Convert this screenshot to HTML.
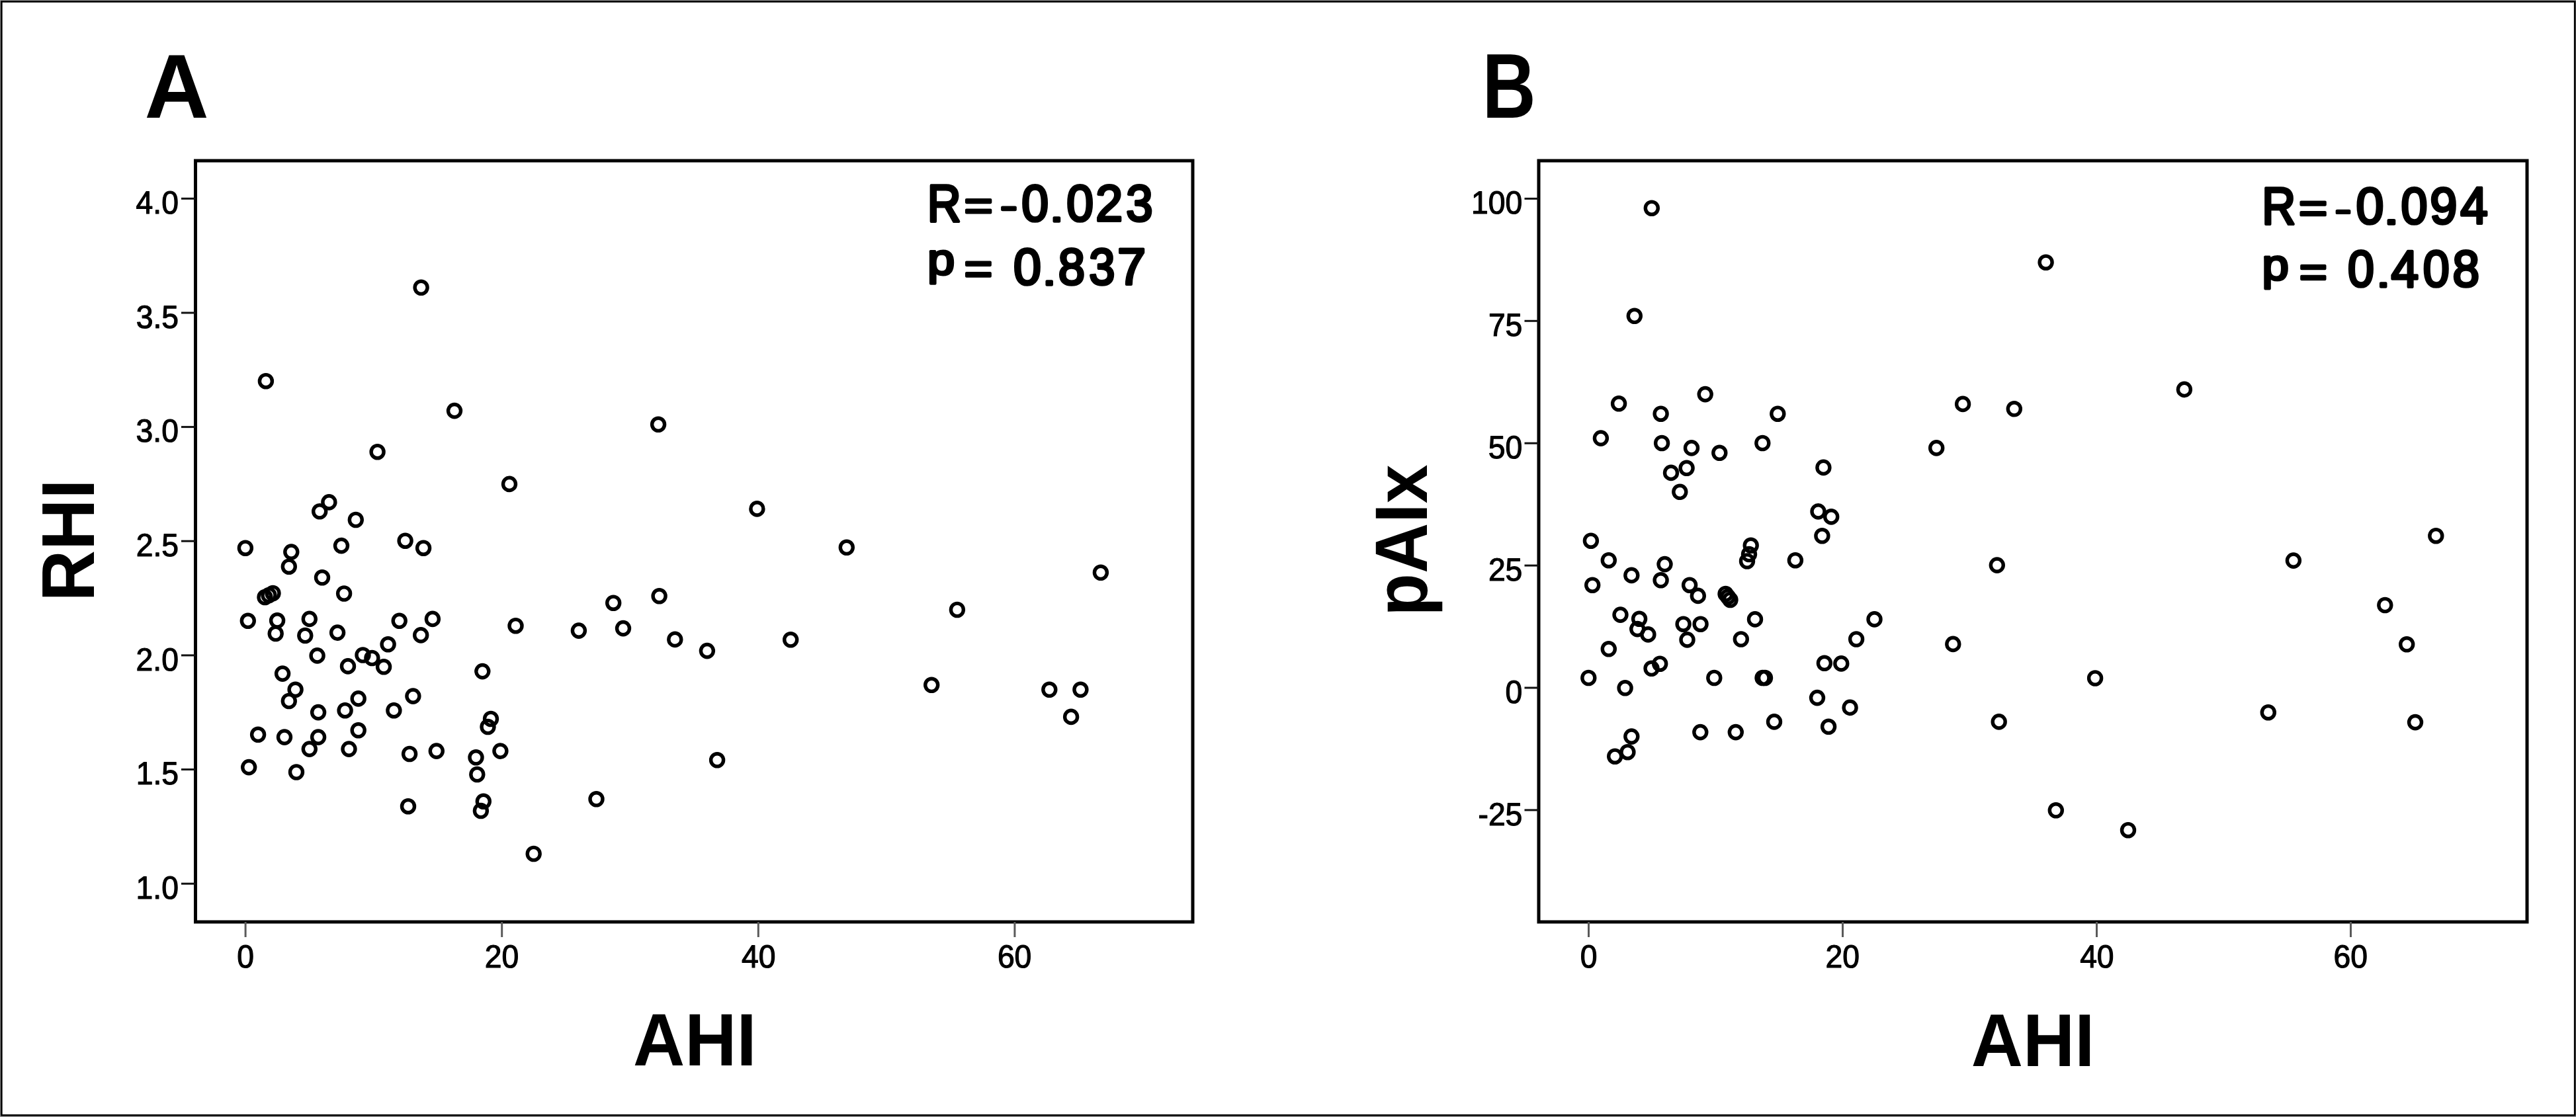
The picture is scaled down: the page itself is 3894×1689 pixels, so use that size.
<!DOCTYPE html>
<html><head><meta charset="utf-8"><title>RHI / pAIx vs AHI scatter plots</title>
<style>html,body{margin:0;padding:0;background:#fff;overflow:hidden;}svg{display:block;}#wrap{filter:grayscale(100%);width:3894px;height:1689px;}text{font-family:"Liberation Sans",sans-serif;fill:#000;font-kerning:none;text-rendering:geometricPrecision;}.tl{stroke:#000;stroke-width:1.20px;stroke-linejoin:round;}</style></head><body><div id="wrap">
<svg width="3894" height="1689" viewBox="0 0 3894 1689">
<rect x="0" y="0" width="3894" height="1689" fill="#fff"/>
<rect x="0.5" y="0.5" width="3893" height="1688" fill="none" stroke="#9a9a9a" stroke-width="1"/>
<rect x="2.3" y="2.4" width="3889.9" height="1684.0" fill="none" stroke="#000" stroke-width="2.7"/>
<text  font-size="100" font-weight="bold" transform="matrix(1.3460 0 0 1.3750 218.55 177.80)">A</text>
<text  font-size="100" font-weight="bold" transform="matrix(1.1199 0 0 1.3925 2240.71 178.40)">B</text>
<rect x="295.5" y="243.0" width="1507.5" height="1151.0" fill="none" stroke="#000" stroke-width="5.0"/>
<line x1="274.0" y1="300.3" x2="295.5" y2="300.3" stroke="#111" stroke-width="3"/>
<text class="tl" font-size="48.7" transform="matrix(0.950 0 0 1 205.59 322.90)">4.0</text>
<line x1="274.0" y1="473.0" x2="295.5" y2="473.0" stroke="#111" stroke-width="3"/>
<text class="tl" font-size="48.7" transform="matrix(0.950 0 0 1 205.73 495.55)">3.5</text>
<line x1="274.0" y1="645.6" x2="295.5" y2="645.6" stroke="#111" stroke-width="3"/>
<text class="tl" font-size="48.7" transform="matrix(0.950 0 0 1 205.59 668.20)">3.0</text>
<line x1="274.0" y1="818.2" x2="295.5" y2="818.2" stroke="#111" stroke-width="3"/>
<text class="tl" font-size="48.7" transform="matrix(0.950 0 0 1 205.73 840.85)">2.5</text>
<line x1="274.0" y1="990.9" x2="295.5" y2="990.9" stroke="#111" stroke-width="3"/>
<text class="tl" font-size="48.7" transform="matrix(0.950 0 0 1 205.59 1013.50)">2.0</text>
<line x1="274.0" y1="1163.5" x2="295.5" y2="1163.5" stroke="#111" stroke-width="3"/>
<text class="tl" font-size="48.7" transform="matrix(0.950 0 0 1 205.73 1186.15)">1.5</text>
<line x1="274.0" y1="1336.2" x2="295.5" y2="1336.2" stroke="#111" stroke-width="3"/>
<text class="tl" font-size="48.7" transform="matrix(0.950 0 0 1 205.59 1358.80)">1.0</text>
<line x1="371.1" y1="1394.0" x2="371.1" y2="1417.0" stroke="#5a5a5a" stroke-width="3.0"/>
<text class="tl" font-size="48.7" transform="matrix(0.950 0 0 1 358.23 1462.80)">0</text>
<line x1="758.7" y1="1394.0" x2="758.7" y2="1417.0" stroke="#5a5a5a" stroke-width="3.0"/>
<text class="tl" font-size="48.7" transform="matrix(0.950 0 0 1 732.71 1462.80)">20</text>
<line x1="1146.3" y1="1394.0" x2="1146.3" y2="1417.0" stroke="#5a5a5a" stroke-width="3.0"/>
<text class="tl" font-size="48.7" transform="matrix(0.950 0 0 1 1120.94 1462.80)">40</text>
<line x1="1533.9" y1="1394.0" x2="1533.9" y2="1417.0" stroke="#5a5a5a" stroke-width="3.0"/>
<text class="tl" font-size="48.7" transform="matrix(0.950 0 0 1 1507.90 1462.80)">60</text>
<g fill="none" stroke="#000" stroke-width="5.4">
<ellipse cx="636.6" cy="434.8" rx="9.50" ry="9.60"/>
<ellipse cx="401.9" cy="576.2" rx="9.50" ry="9.60"/>
<ellipse cx="687.0" cy="621.1" rx="9.50" ry="9.60"/>
<ellipse cx="995.1" cy="641.8" rx="9.50" ry="9.60"/>
<ellipse cx="570.6" cy="683.2" rx="9.50" ry="9.60"/>
<ellipse cx="770.0" cy="731.9" rx="9.50" ry="9.60"/>
<ellipse cx="497.4" cy="759.4" rx="9.50" ry="9.60"/>
<ellipse cx="483.2" cy="773.3" rx="9.50" ry="9.60"/>
<ellipse cx="537.8" cy="786.0" rx="9.50" ry="9.60"/>
<ellipse cx="370.9" cy="828.7" rx="9.50" ry="9.60"/>
<ellipse cx="440.3" cy="834.6" rx="9.50" ry="9.60"/>
<ellipse cx="516.0" cy="825.1" rx="9.50" ry="9.60"/>
<ellipse cx="612.6" cy="817.7" rx="9.50" ry="9.60"/>
<ellipse cx="640.1" cy="828.7" rx="9.50" ry="9.60"/>
<ellipse cx="436.8" cy="856.7" rx="9.50" ry="9.60"/>
<ellipse cx="487.0" cy="873.3" rx="9.50" ry="9.60"/>
<ellipse cx="400.5" cy="903.0" rx="9.50" ry="9.60"/>
<ellipse cx="406.5" cy="900.0" rx="9.50" ry="9.60"/>
<ellipse cx="412.5" cy="897.0" rx="9.50" ry="9.60"/>
<ellipse cx="520.1" cy="897.5" rx="9.50" ry="9.60"/>
<ellipse cx="927.2" cy="911.7" rx="9.50" ry="9.60"/>
<ellipse cx="996.6" cy="901.3" rx="9.50" ry="9.60"/>
<ellipse cx="374.8" cy="938.8" rx="9.50" ry="9.60"/>
<ellipse cx="419.1" cy="938.3" rx="9.50" ry="9.60"/>
<ellipse cx="416.7" cy="958.0" rx="9.50" ry="9.60"/>
<ellipse cx="467.8" cy="935.9" rx="9.50" ry="9.60"/>
<ellipse cx="461.3" cy="961.0" rx="9.50" ry="9.60"/>
<ellipse cx="510.1" cy="956.6" rx="9.50" ry="9.60"/>
<ellipse cx="603.7" cy="938.8" rx="9.50" ry="9.60"/>
<ellipse cx="653.9" cy="935.9" rx="9.50" ry="9.60"/>
<ellipse cx="636.2" cy="960.4" rx="9.50" ry="9.60"/>
<ellipse cx="586.6" cy="974.3" rx="9.50" ry="9.60"/>
<ellipse cx="779.5" cy="946.2" rx="9.50" ry="9.60"/>
<ellipse cx="874.9" cy="953.6" rx="9.50" ry="9.60"/>
<ellipse cx="942.0" cy="950.1" rx="9.50" ry="9.60"/>
<ellipse cx="1020.3" cy="966.9" rx="9.50" ry="9.60"/>
<ellipse cx="479.6" cy="991.4" rx="9.50" ry="9.60"/>
<ellipse cx="548.5" cy="990.5" rx="9.50" ry="9.60"/>
<ellipse cx="562.4" cy="995.0" rx="9.50" ry="9.60"/>
<ellipse cx="580.1" cy="1008.3" rx="9.50" ry="9.60"/>
<ellipse cx="526.0" cy="1007.4" rx="9.50" ry="9.60"/>
<ellipse cx="427.1" cy="1018.6" rx="9.50" ry="9.60"/>
<ellipse cx="729.3" cy="1015.1" rx="9.50" ry="9.60"/>
<ellipse cx="446.6" cy="1042.8" rx="9.50" ry="9.60"/>
<ellipse cx="436.8" cy="1060.0" rx="9.50" ry="9.60"/>
<ellipse cx="541.7" cy="1056.4" rx="9.50" ry="9.60"/>
<ellipse cx="521.6" cy="1074.2" rx="9.50" ry="9.60"/>
<ellipse cx="481.1" cy="1077.1" rx="9.50" ry="9.60"/>
<ellipse cx="595.4" cy="1074.2" rx="9.50" ry="9.60"/>
<ellipse cx="624.4" cy="1052.6" rx="9.50" ry="9.60"/>
<ellipse cx="742.0" cy="1087.0" rx="9.50" ry="9.60"/>
<ellipse cx="737.5" cy="1099.0" rx="9.50" ry="9.60"/>
<ellipse cx="390.1" cy="1110.8" rx="9.50" ry="9.60"/>
<ellipse cx="430.0" cy="1114.6" rx="9.50" ry="9.60"/>
<ellipse cx="481.1" cy="1114.6" rx="9.50" ry="9.60"/>
<ellipse cx="541.7" cy="1104.3" rx="9.50" ry="9.60"/>
<ellipse cx="467.8" cy="1132.6" rx="9.50" ry="9.60"/>
<ellipse cx="527.5" cy="1132.6" rx="9.50" ry="9.60"/>
<ellipse cx="376.2" cy="1160.1" rx="9.50" ry="9.60"/>
<ellipse cx="448.0" cy="1167.5" rx="9.50" ry="9.60"/>
<ellipse cx="619.1" cy="1140.0" rx="9.50" ry="9.60"/>
<ellipse cx="659.8" cy="1135.6" rx="9.50" ry="9.60"/>
<ellipse cx="719.5" cy="1145.3" rx="9.50" ry="9.60"/>
<ellipse cx="721.3" cy="1171.0" rx="9.50" ry="9.60"/>
<ellipse cx="756.4" cy="1135.6" rx="9.50" ry="9.60"/>
<ellipse cx="617.0" cy="1219.2" rx="9.50" ry="9.60"/>
<ellipse cx="730.8" cy="1211.8" rx="9.50" ry="9.60"/>
<ellipse cx="726.9" cy="1226.0" rx="9.50" ry="9.60"/>
<ellipse cx="901.5" cy="1208.3" rx="9.50" ry="9.60"/>
<ellipse cx="806.7" cy="1291.0" rx="9.50" ry="9.60"/>
<ellipse cx="1144.4" cy="769.4" rx="9.50" ry="9.60"/>
<ellipse cx="1279.8" cy="827.8" rx="9.50" ry="9.60"/>
<ellipse cx="1663.9" cy="865.8" rx="9.50" ry="9.60"/>
<ellipse cx="1068.9" cy="984.1" rx="9.50" ry="9.60"/>
<ellipse cx="1195.2" cy="967.3" rx="9.50" ry="9.60"/>
<ellipse cx="1446.9" cy="922.0" rx="9.50" ry="9.60"/>
<ellipse cx="1408.2" cy="1035.8" rx="9.50" ry="9.60"/>
<ellipse cx="1586.3" cy="1042.8" rx="9.50" ry="9.60"/>
<ellipse cx="1633.4" cy="1042.8" rx="9.50" ry="9.60"/>
<ellipse cx="1619.1" cy="1083.9" rx="9.50" ry="9.60"/>
<ellipse cx="1084.1" cy="1149.3" rx="9.50" ry="9.60"/>
</g>
<text  font-size="100" font-weight="normal" transform="matrix(0.7057 0 0 0.7936 1401.71 334.50)" stroke="#000" stroke-width="5.345" stroke-linejoin="round">R</text>
<text  font-size="100" font-weight="normal" transform="matrix(0.7410 0 0 0.6144 1457.38 332.12)" stroke="#000" stroke-width="5.928" stroke-linejoin="round">=</text>
<text  font-size="100" font-weight="normal" transform="matrix(0.7782 0 0 0.5504 1512.04 330.27)" stroke="#000" stroke-width="6.112" stroke-linejoin="round">-</text>
<text  font-size="100" font-weight="normal" transform="matrix(0.7322 0 0 0.7712 1544.14 333.75)" stroke="#000" stroke-width="5.323" stroke-linejoin="round">0</text>
<text  font-size="100" font-weight="normal" transform="matrix(0.7457 0 0 0.5611 1586.89 334.50)" stroke="#000" stroke-width="6.184" stroke-linejoin="round">.</text>
<text  font-size="100" font-weight="normal" transform="matrix(0.7322 0 0 0.7712 1612.14 333.75)" stroke="#000" stroke-width="5.323" stroke-linejoin="round">0</text>
<text  font-size="100" font-weight="normal" transform="matrix(0.7353 0 0 0.7748 1656.30 334.00)" stroke="#000" stroke-width="5.299" stroke-linejoin="round">2</text>
<text  font-size="100" font-weight="normal" transform="matrix(0.7256 0 0 0.7712 1702.24 333.75)" stroke="#000" stroke-width="5.347" stroke-linejoin="round">3</text>
<text  font-size="100" font-weight="normal" transform="matrix(0.7405 0 0 0.6630 1401.93 415.04)" stroke="#000" stroke-width="5.709" stroke-linejoin="round">p</text>
<text  font-size="100" font-weight="normal" transform="matrix(0.7348 0 0 0.6672 1457.51 428.91)" stroke="#000" stroke-width="5.713" stroke-linejoin="round">=</text>
<text  font-size="100" font-weight="normal" transform="matrix(0.7531 0 0 0.7712 1532.06 429.85)" stroke="#000" stroke-width="5.249" stroke-linejoin="round">0</text>
<text  font-size="100" font-weight="normal" transform="matrix(0.7352 0 0 0.5704 1575.99 430.60)" stroke="#000" stroke-width="6.177" stroke-linejoin="round">.</text>
<text  font-size="100" font-weight="normal" transform="matrix(0.7246 0 0 0.7712 1599.85 429.85)" stroke="#000" stroke-width="5.351" stroke-linejoin="round">8</text>
<text  font-size="100" font-weight="normal" transform="matrix(0.7045 0 0 0.7712 1646.32 429.85)" stroke="#000" stroke-width="5.427" stroke-linejoin="round">3</text>
<text  font-size="100" font-weight="normal" transform="matrix(0.7765 0 0 0.7791 1689.02 430.10)" stroke="#000" stroke-width="5.143" stroke-linejoin="round">7</text>
<text font-size="100" font-weight="bold" transform="matrix(0 -1.0728 1.1323 0 142.30 909.48)">RHI</text>
<text  font-size="100" font-weight="bold" transform="matrix(1.0826 0 0 1.1221 957.10 1610.80)">AHI</text>
<rect x="2326.0" y="243.0" width="1494.0" height="1151.0" fill="none" stroke="#000" stroke-width="5.0"/>
<line x1="2304.5" y1="300.4" x2="2326.0" y2="300.4" stroke="#111" stroke-width="3"/>
<text class="tl" font-size="48.7" transform="matrix(0.950 0 0 1 2224.02 323.00)">100</text>
<line x1="2304.5" y1="485.3" x2="2326.0" y2="485.3" stroke="#111" stroke-width="3"/>
<text class="tl" font-size="48.7" transform="matrix(0.950 0 0 1 2249.88 507.90)">75</text>
<line x1="2304.5" y1="670.2" x2="2326.0" y2="670.2" stroke="#111" stroke-width="3"/>
<text class="tl" font-size="48.7" transform="matrix(0.950 0 0 1 2249.75 692.80)">50</text>
<line x1="2304.5" y1="855.1" x2="2326.0" y2="855.1" stroke="#111" stroke-width="3"/>
<text class="tl" font-size="48.7" transform="matrix(0.950 0 0 1 2249.88 877.70)">25</text>
<line x1="2304.5" y1="1040.0" x2="2326.0" y2="1040.0" stroke="#111" stroke-width="3"/>
<text class="tl" font-size="48.7" transform="matrix(0.950 0 0 1 2275.48 1062.60)">0</text>
<line x1="2304.5" y1="1224.9" x2="2326.0" y2="1224.9" stroke="#111" stroke-width="3"/>
<text class="tl" font-size="48.7" transform="matrix(0.950 0 0 1 2234.48 1247.50)">-25</text>
<line x1="2401.5" y1="1394.0" x2="2401.5" y2="1417.0" stroke="#5a5a5a" stroke-width="3.0"/>
<text class="tl" font-size="48.7" transform="matrix(0.950 0 0 1 2388.63 1462.80)">0</text>
<line x1="2785.5" y1="1394.0" x2="2785.5" y2="1417.0" stroke="#5a5a5a" stroke-width="3.0"/>
<text class="tl" font-size="48.7" transform="matrix(0.950 0 0 1 2759.51 1462.80)">20</text>
<line x1="3169.5" y1="1394.0" x2="3169.5" y2="1417.0" stroke="#5a5a5a" stroke-width="3.0"/>
<text class="tl" font-size="48.7" transform="matrix(0.950 0 0 1 3144.14 1462.80)">40</text>
<line x1="3553.5" y1="1394.0" x2="3553.5" y2="1417.0" stroke="#5a5a5a" stroke-width="3.0"/>
<text class="tl" font-size="48.7" transform="matrix(0.950 0 0 1 3527.50 1462.80)">60</text>
<g fill="none" stroke="#000" stroke-width="5.4">
<ellipse cx="2496.8" cy="314.7" rx="9.50" ry="9.60"/>
<ellipse cx="2470.8" cy="477.8" rx="9.50" ry="9.60"/>
<ellipse cx="2447.1" cy="610.3" rx="9.50" ry="9.60"/>
<ellipse cx="2510.6" cy="625.7" rx="9.50" ry="9.60"/>
<ellipse cx="2577.7" cy="596.1" rx="9.50" ry="9.60"/>
<ellipse cx="2687.3" cy="625.7" rx="9.50" ry="9.60"/>
<ellipse cx="2967.1" cy="610.9" rx="9.50" ry="9.60"/>
<ellipse cx="3044.8" cy="618.3" rx="9.50" ry="9.60"/>
<ellipse cx="2419.9" cy="662.6" rx="9.50" ry="9.60"/>
<ellipse cx="2512.1" cy="670.0" rx="9.50" ry="9.60"/>
<ellipse cx="2557.0" cy="677.4" rx="9.50" ry="9.60"/>
<ellipse cx="2599.3" cy="684.8" rx="9.50" ry="9.60"/>
<ellipse cx="2664.3" cy="670.0" rx="9.50" ry="9.60"/>
<ellipse cx="2927.2" cy="677.4" rx="9.50" ry="9.60"/>
<ellipse cx="2526.0" cy="714.9" rx="9.50" ry="9.60"/>
<ellipse cx="2549.6" cy="707.8" rx="9.50" ry="9.60"/>
<ellipse cx="2756.4" cy="706.9" rx="9.50" ry="9.60"/>
<ellipse cx="2539.3" cy="743.8" rx="9.50" ry="9.60"/>
<ellipse cx="2748.5" cy="773.4" rx="9.50" ry="9.60"/>
<ellipse cx="2768.2" cy="781.4" rx="9.50" ry="9.60"/>
<ellipse cx="2754.4" cy="810.3" rx="9.50" ry="9.60"/>
<ellipse cx="2404.9" cy="817.7" rx="9.50" ry="9.60"/>
<ellipse cx="2431.8" cy="847.2" rx="9.50" ry="9.60"/>
<ellipse cx="2516.5" cy="853.1" rx="9.50" ry="9.60"/>
<ellipse cx="2646.7" cy="824.8" rx="9.50" ry="9.60"/>
<ellipse cx="2644.0" cy="838.0" rx="9.50" ry="9.60"/>
<ellipse cx="2641.0" cy="848.5" rx="9.50" ry="9.60"/>
<ellipse cx="2713.9" cy="847.2" rx="9.50" ry="9.60"/>
<ellipse cx="3018.8" cy="854.6" rx="9.50" ry="9.60"/>
<ellipse cx="2407.2" cy="884.7" rx="9.50" ry="9.60"/>
<ellipse cx="2466.3" cy="869.9" rx="9.50" ry="9.60"/>
<ellipse cx="2510.6" cy="877.3" rx="9.50" ry="9.60"/>
<ellipse cx="2554.1" cy="884.7" rx="9.50" ry="9.60"/>
<ellipse cx="2566.8" cy="900.9" rx="9.50" ry="9.60"/>
<ellipse cx="2608.5" cy="898.0" rx="9.50" ry="9.60"/>
<ellipse cx="2612.0" cy="902.5" rx="9.50" ry="9.60"/>
<ellipse cx="2615.5" cy="907.0" rx="9.50" ry="9.60"/>
<ellipse cx="2449.5" cy="929.6" rx="9.50" ry="9.60"/>
<ellipse cx="2478.1" cy="935.8" rx="9.50" ry="9.60"/>
<ellipse cx="2475.2" cy="951.1" rx="9.50" ry="9.60"/>
<ellipse cx="2491.4" cy="959.4" rx="9.50" ry="9.60"/>
<ellipse cx="2544.6" cy="943.7" rx="9.50" ry="9.60"/>
<ellipse cx="2570.6" cy="943.7" rx="9.50" ry="9.60"/>
<ellipse cx="2550.5" cy="967.4" rx="9.50" ry="9.60"/>
<ellipse cx="2653.0" cy="936.4" rx="9.50" ry="9.60"/>
<ellipse cx="2631.8" cy="966.5" rx="9.50" ry="9.60"/>
<ellipse cx="2833.5" cy="936.4" rx="9.50" ry="9.60"/>
<ellipse cx="2806.1" cy="966.5" rx="9.50" ry="9.60"/>
<ellipse cx="2952.3" cy="973.9" rx="9.50" ry="9.60"/>
<ellipse cx="2431.8" cy="981.3" rx="9.50" ry="9.60"/>
<ellipse cx="2496.5" cy="1010.8" rx="9.50" ry="9.60"/>
<ellipse cx="2509.2" cy="1003.7" rx="9.50" ry="9.60"/>
<ellipse cx="2757.9" cy="1002.8" rx="9.50" ry="9.60"/>
<ellipse cx="2783.3" cy="1003.4" rx="9.50" ry="9.60"/>
<ellipse cx="2401.3" cy="1025.0" rx="9.50" ry="9.60"/>
<ellipse cx="2456.6" cy="1040.3" rx="9.50" ry="9.60"/>
<ellipse cx="2591.3" cy="1025.0" rx="9.50" ry="9.60"/>
<ellipse cx="2664.5" cy="1025.0" rx="9.50" ry="9.60"/>
<ellipse cx="2668.0" cy="1025.0" rx="9.50" ry="9.60"/>
<ellipse cx="2747.0" cy="1055.1" rx="9.50" ry="9.60"/>
<ellipse cx="2796.6" cy="1069.9" rx="9.50" ry="9.60"/>
<ellipse cx="3021.7" cy="1091.4" rx="9.50" ry="9.60"/>
<ellipse cx="2682.0" cy="1091.4" rx="9.50" ry="9.60"/>
<ellipse cx="2764.1" cy="1098.8" rx="9.50" ry="9.60"/>
<ellipse cx="2570.3" cy="1107.1" rx="9.50" ry="9.60"/>
<ellipse cx="2623.8" cy="1107.1" rx="9.50" ry="9.60"/>
<ellipse cx="2466.3" cy="1113.6" rx="9.50" ry="9.60"/>
<ellipse cx="2460.4" cy="1137.2" rx="9.50" ry="9.60"/>
<ellipse cx="2441.2" cy="1143.7" rx="9.50" ry="9.60"/>
<ellipse cx="3092.6" cy="396.7" rx="9.50" ry="9.60"/>
<ellipse cx="3301.9" cy="588.9" rx="9.50" ry="9.60"/>
<ellipse cx="3682.3" cy="810.2" rx="9.50" ry="9.60"/>
<ellipse cx="3466.9" cy="847.6" rx="9.50" ry="9.60"/>
<ellipse cx="3605.3" cy="915.0" rx="9.50" ry="9.60"/>
<ellipse cx="3638.2" cy="974.3" rx="9.50" ry="9.60"/>
<ellipse cx="3167.1" cy="1025.5" rx="9.50" ry="9.60"/>
<ellipse cx="3428.8" cy="1077.2" rx="9.50" ry="9.60"/>
<ellipse cx="3651.0" cy="1092.1" rx="9.50" ry="9.60"/>
<ellipse cx="3107.8" cy="1225.3" rx="9.50" ry="9.60"/>
<ellipse cx="3217.0" cy="1255.2" rx="9.50" ry="9.60"/>
</g>
<text  font-size="100" font-weight="normal" transform="matrix(0.7057 0 0 0.7951 3419.21 338.80)" stroke="#000" stroke-width="5.340" stroke-linejoin="round">R</text>
<text  font-size="100" font-weight="normal" transform="matrix(0.7410 0 0 0.6268 3474.88 336.33)" stroke="#000" stroke-width="5.869" stroke-linejoin="round">=</text>
<text  font-size="100" font-weight="normal" transform="matrix(0.7373 0 0 0.5120 3529.72 333.60)" stroke="#000" stroke-width="6.510" stroke-linejoin="round">-</text>
<text  font-size="100" font-weight="normal" transform="matrix(0.7531 0 0 0.7726 3561.46 338.05)" stroke="#000" stroke-width="5.244" stroke-linejoin="round">0</text>
<text  font-size="100" font-weight="normal" transform="matrix(0.8402 0 0 0.5892 3603.33 338.80)" stroke="#000" stroke-width="5.685" stroke-linejoin="round">.</text>
<text  font-size="100" font-weight="normal" transform="matrix(0.7175 0 0 0.7726 3629.60 338.05)" stroke="#000" stroke-width="5.372" stroke-linejoin="round">0</text>
<text  font-size="100" font-weight="normal" transform="matrix(0.7404 0 0 0.7726 3673.23 338.05)" stroke="#000" stroke-width="5.289" stroke-linejoin="round">9</text>
<text  font-size="100" font-weight="normal" transform="matrix(0.7462 0 0 0.7878 3719.19 338.30)" stroke="#000" stroke-width="5.217" stroke-linejoin="round">4</text>
<text  font-size="100" font-weight="normal" transform="matrix(0.7249 0 0 0.6536 3419.43 423.04)" stroke="#000" stroke-width="5.811" stroke-linejoin="round">p</text>
<text  font-size="100" font-weight="normal" transform="matrix(0.7225 0 0 0.6392 3475.87 432.84)" stroke="#000" stroke-width="5.886" stroke-linejoin="round">=</text>
<text  font-size="100" font-weight="normal" transform="matrix(0.7154 0 0 0.7726 3548.91 433.25)" stroke="#000" stroke-width="5.380" stroke-linejoin="round">0</text>
<text  font-size="100" font-weight="normal" transform="matrix(0.7352 0 0 0.5611 3592.59 434.00)" stroke="#000" stroke-width="6.228" stroke-linejoin="round">.</text>
<text  font-size="100" font-weight="normal" transform="matrix(0.7482 0 0 0.7878 3614.58 433.50)" stroke="#000" stroke-width="5.210" stroke-linejoin="round">4</text>
<text  font-size="100" font-weight="normal" transform="matrix(0.7175 0 0 0.7726 3662.80 433.25)" stroke="#000" stroke-width="5.372" stroke-linejoin="round">0</text>
<text  font-size="100" font-weight="normal" transform="matrix(0.7288 0 0 0.7726 3707.53 433.25)" stroke="#000" stroke-width="5.331" stroke-linejoin="round">8</text>
<text font-size="100" font-weight="bold" transform="matrix(0 -1.0579 1.1223 0 2156.71 931.67)">pAIx</text>
<text  font-size="100" font-weight="bold" transform="matrix(1.0832 0 0 1.1323 2979.70 1611.50)">AHI</text>
</svg></div></body></html>
